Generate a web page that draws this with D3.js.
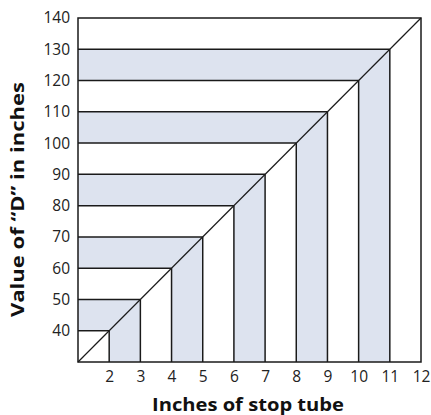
<!DOCTYPE html>
<html><head><meta charset="utf-8">
<script src="https://cdn.jsdelivr.net/npm/d3@7"></script>
<style>body{margin:0;background:#fff}svg{display:block}</style>
</head><body>
<script>
// Data
const xTicks = [2,3,4,5,6,7,8,9,10,11,12];
const yTicks = [40,50,60,70,80,90,100,110,120,130,140];
const steps = [2,3,4,5,6,7,8,9,10,11];           // stop tube inches
const dValues = [40,50,60,70,80,90,100,110,120,130]; // value of "D"
const shadedPairs = [[2,3],[4,5],[6,7],[8,9],[10,11]];
const xDomain = [1,12];
const yDomain = [30,140];

const W=431,H=415;
const m={l:78,r:10,t:18,b:53};
const svg=d3.select("body").append("svg").attr("width",W).attr("height",H);
const x=d3.scaleLinear().domain(xDomain).range([m.l,W-m.r]);
const y=d3.scaleLinear().domain(yDomain).range([H-m.b,m.t]);
const dOf = s => dValues[steps.indexOf(s)];
const font="'Open Sans', sans-serif";

// shaded L bands
svg.append("g").selectAll("path").data(shadedPairs).join("path")
  .attr("d",([a,b])=>{
    const ya=dOf(a), yb=dOf(b);
    return d3.line()([[x(1),y(ya)],[x(a),y(ya)],[x(a),y(30)],[x(b),y(30)],[x(b),y(yb)],[x(1),y(yb)]])+"Z";
  })
  .attr("fill","#dde3ef");

const lc="#1a1a1a", lw=1.5;
const g=svg.append("g").attr("stroke",lc).attr("stroke-width",lw).attr("fill","none");
g.selectAll("line.h").data(steps).join("line").attr("class","h")
  .attr("x1",x(1)).attr("x2",(s)=>x(s)).attr("y1",(s)=>y(dOf(s))).attr("y2",(s)=>y(dOf(s)));
g.selectAll("line.v").data(steps).join("line").attr("class","v")
  .attr("x1",(s)=>x(s)).attr("x2",(s)=>x(s)).attr("y1",y(30)).attr("y2",(s)=>y(dOf(s)));
g.append("line").attr("x1",x(1)).attr("y1",y(30)).attr("x2",x(12)).attr("y2",y(140)).attr("stroke-width",1.2);
g.append("rect").attr("x",x(1)).attr("y",y(140)).attr("width",x(12)-x(1)).attr("height",y(30)-y(140));

// axes
const xa=svg.append("g").attr("transform",`translate(0,${y(30)})`)
  .call(d3.axisBottom(x).tickValues(xTicks).tickSize(0).tickPadding(9).tickFormat(d3.format("d")));
const ya=svg.append("g").attr("transform",`translate(${x(1)},0)`)
  .call(d3.axisLeft(y).tickValues(yTicks).tickSize(0).tickPadding(8).tickFormat(d3.format("d")));
[xa,ya].forEach(a=>{a.select(".domain").remove();a.selectAll("text").attr("font-family",font).attr("font-size",15.5).attr("fill","#222");});

svg.append("text").attr("x",248).attr("y",411).attr("text-anchor","middle")
  .attr("font-family",font).attr("font-weight","bold").attr("font-size",17.5).attr("fill","#111")
  .attr("textLength",192).attr("lengthAdjust","spacingAndGlyphs")
  .text("Inches of stop tube");
svg.append("text").attr("transform",`translate(24,199.5) rotate(-90)`).attr("text-anchor","middle")
  .attr("font-family",font).attr("font-weight","bold").attr("font-size",17.5).attr("fill","#111")
  .attr("textLength",235).attr("lengthAdjust","spacingAndGlyphs")
  .text("Value of “D” in inches");
</script>
</body></html>
